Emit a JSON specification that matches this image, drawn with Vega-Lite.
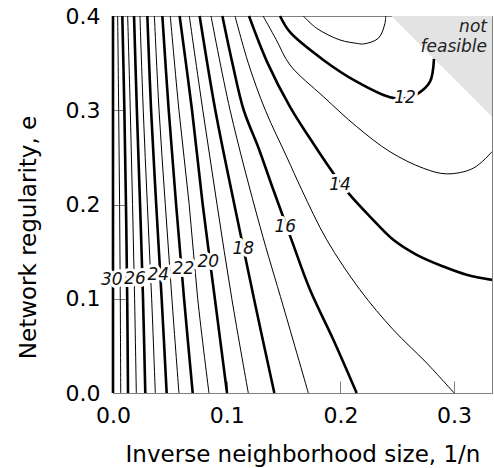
{
  "$schema": "https://vega.github.io/schema/vega-lite/v6.json",
  "width": 379,
  "height": 377,
  "autosize": {"type": "none"},
  "padding": {"left": 113, "top": 16, "right": 2, "bottom": 75},
  "background": "white",
  "config": {
    "font": "DejaVu Sans",
    "view": {"stroke": "#808080", "strokeWidth": 1}
  },
  "datasets": {
    "contours": [
      {"level": 30, "i": 0, "x": 0, "y": 0}, {"level": 30, "i": 1, "x": 0, "y": 0.4},
      {"level": 29, "i": 0, "x": 0.0068, "y": 0}, {"level": 29, "i": 1, "x": 0.0064, "y": 0.1}, {"level": 29, "i": 2, "x": 0.0058, "y": 0.2}, {"level": 29, "i": 3, "x": 0.0050, "y": 0.3}, {"level": 29, "i": 4, "x": 0.0041, "y": 0.4},
      {"level": 28, "i": 0, "x": 0.0132, "y": 0}, {"level": 28, "i": 1, "x": 0.0125, "y": 0.1}, {"level": 28, "i": 2, "x": 0.0114, "y": 0.2}, {"level": 28, "i": 3, "x": 0.0100, "y": 0.3}, {"level": 28, "i": 4, "x": 0.0082, "y": 0.4},
      {"level": 27, "i": 0, "x": 0.0205, "y": 0}, {"level": 27, "i": 1, "x": 0.0190, "y": 0.1}, {"level": 27, "i": 2, "x": 0.0172, "y": 0.2}, {"level": 27, "i": 3, "x": 0.0152, "y": 0.3}, {"level": 27, "i": 4, "x": 0.0129, "y": 0.4},
      {"level": 26, "i": 0, "x": 0.0284, "y": 0}, {"level": 26, "i": 1, "x": 0.0264, "y": 0.1}, {"level": 26, "i": 2, "x": 0.0238, "y": 0.2}, {"level": 26, "i": 3, "x": 0.0210, "y": 0.3}, {"level": 26, "i": 4, "x": 0.0185, "y": 0.4},
      {"level": 25, "i": 0, "x": 0.0372, "y": 0}, {"level": 25, "i": 1, "x": 0.0340, "y": 0.1}, {"level": 25, "i": 2, "x": 0.0302, "y": 0.2}, {"level": 25, "i": 3, "x": 0.0266, "y": 0.3}, {"level": 25, "i": 4, "x": 0.0237, "y": 0.4},
      {"level": 24, "i": 0, "x": 0.0472, "y": 0}, {"level": 24, "i": 1, "x": 0.0428, "y": 0.1}, {"level": 24, "i": 2, "x": 0.0380, "y": 0.2}, {"level": 24, "i": 3, "x": 0.0335, "y": 0.3}, {"level": 24, "i": 4, "x": 0.0302, "y": 0.4},
      {"level": 23, "i": 0, "x": 0.0580, "y": 0}, {"level": 23, "i": 1, "x": 0.0518, "y": 0.1}, {"level": 23, "i": 2, "x": 0.0460, "y": 0.2}, {"level": 23, "i": 3, "x": 0.0405, "y": 0.3}, {"level": 23, "i": 4, "x": 0.0364, "y": 0.4},
      {"level": 22, "i": 0, "x": 0.0701, "y": 0}, {"level": 22, "i": 1, "x": 0.0625, "y": 0.1}, {"level": 22, "i": 2, "x": 0.0555, "y": 0.2}, {"level": 22, "i": 3, "x": 0.0490, "y": 0.3}, {"level": 22, "i": 4, "x": 0.0434, "y": 0.4},
      {"level": 21, "i": 0, "x": 0.0844, "y": 0}, {"level": 21, "i": 1, "x": 0.0745, "y": 0.1}, {"level": 21, "i": 2, "x": 0.0670, "y": 0.2}, {"level": 21, "i": 3, "x": 0.0580, "y": 0.3}, {"level": 21, "i": 4, "x": 0.0504, "y": 0.4},
      {"level": 20, "i": 0, "x": 0.1003, "y": 0}, {"level": 20, "i": 1, "x": 0.0896, "y": 0.1}, {"level": 20, "i": 2, "x": 0.0789, "y": 0.2}, {"level": 20, "i": 3, "x": 0.0695, "y": 0.3}, {"level": 20, "i": 4, "x": 0.0586, "y": 0.4},
      {"level": 19, "i": 0, "x": 0.1190, "y": 0}, {"level": 19, "i": 1, "x": 0.1045, "y": 0.1}, {"level": 19, "i": 2, "x": 0.0915, "y": 0.2}, {"level": 19, "i": 3, "x": 0.0790, "y": 0.3}, {"level": 19, "i": 4, "x": 0.0671, "y": 0.4},
      {"level": 18, "i": 0, "x": 0.1419, "y": 0}, {"level": 18, "i": 1, "x": 0.1240, "y": 0.1}, {"level": 18, "i": 2, "x": 0.1067, "y": 0.2}, {"level": 18, "i": 3, "x": 0.0900, "y": 0.3}, {"level": 18, "i": 4, "x": 0.0762, "y": 0.4},
      {"level": 17, "i": 0, "x": 0.1718, "y": 0}, {"level": 17, "i": 1, "x": 0.1498, "y": 0.0918}, {"level": 17, "i": 2, "x": 0.1293, "y": 0.1767}, {"level": 17, "i": 3, "x": 0.1030, "y": 0.3}, {"level": 17, "i": 4, "x": 0.0862, "y": 0.4},
      {"level": 16, "i": 0, "x": 0.2143, "y": 0}, {"level": 16, "i": 1, "x": 0.1938, "y": 0.0565}, {"level": 16, "i": 2, "x": 0.1733, "y": 0.1095}, {"level": 16, "i": 3, "x": 0.1570, "y": 0.1625}, {"level": 16, "i": 4, "x": 0.1410, "y": 0.2156}, {"level": 16, "i": 5, "x": 0.1280, "y": 0.26}, {"level": 16, "i": 6, "x": 0.1150, "y": 0.3}, {"level": 16, "i": 7, "x": 0.1050, "y": 0.35}, {"level": 16, "i": 8, "x": 0.0962, "y": 0.4},
      {"level": 15, "i": 0, "x": 0.3000, "y": 0}, {"level": 15, "i": 1, "x": 0.2759, "y": 0.0318}, {"level": 15, "i": 2, "x": 0.2465, "y": 0.0671}, {"level": 15, "i": 3, "x": 0.2172, "y": 0.1095}, {"level": 15, "i": 4, "x": 0.1880, "y": 0.1625}, {"level": 15, "i": 5, "x": 0.1660, "y": 0.2156}, {"level": 15, "i": 6, "x": 0.1530, "y": 0.25}, {"level": 15, "i": 7, "x": 0.1340, "y": 0.3}, {"level": 15, "i": 8, "x": 0.1190, "y": 0.35}, {"level": 15, "i": 9, "x": 0.1073, "y": 0.4},
      {"level": 14, "i": 0, "x": 0.3333, "y": 0.120}, {"level": 14, "i": 1, "x": 0.3110, "y": 0.1254}, {"level": 14, "i": 2, "x": 0.2905, "y": 0.1342}, {"level": 14, "i": 3, "x": 0.2671, "y": 0.1466}, {"level": 14, "i": 4, "x": 0.2465, "y": 0.1625}, {"level": 14, "i": 5, "x": 0.2260, "y": 0.1872}, {"level": 14, "i": 6, "x": 0.2084, "y": 0.2102}, {"level": 14, "i": 7, "x": 0.1938, "y": 0.2332}, {"level": 14, "i": 8, "x": 0.1733, "y": 0.270}, {"level": 14, "i": 9, "x": 0.1557, "y": 0.3036}, {"level": 14, "i": 10, "x": 0.1360, "y": 0.35}, {"level": 14, "i": 11, "x": 0.1196, "y": 0.4},
      {"level": 13, "i": 0, "x": 0.3333, "y": 0.256}, {"level": 13, "i": 1, "x": 0.3169, "y": 0.2385}, {"level": 13, "i": 2, "x": 0.2935, "y": 0.2325}, {"level": 13, "i": 3, "x": 0.2729, "y": 0.2385}, {"level": 13, "i": 4, "x": 0.2436, "y": 0.256}, {"level": 13, "i": 5, "x": 0.2143, "y": 0.2826}, {"level": 13, "i": 6, "x": 0.1850, "y": 0.3145}, {"level": 13, "i": 7, "x": 0.1557, "y": 0.348}, {"level": 13, "i": 8, "x": 0.1435, "y": 0.375}, {"level": 13, "i": 9, "x": 0.1320, "y": 0.4},
      {"level": 12, "i": 0, "x": 0.2823, "y": 0.3545}, {"level": 12, "i": 1, "x": 0.2788, "y": 0.3303}, {"level": 12, "i": 2, "x": 0.2685, "y": 0.318}, {"level": 12, "i": 3, "x": 0.2560, "y": 0.3125}, {"level": 12, "i": 4, "x": 0.2436, "y": 0.3138}, {"level": 12, "i": 5, "x": 0.2143, "y": 0.3303}, {"level": 12, "i": 6, "x": 0.1850, "y": 0.3534}, {"level": 12, "i": 7, "x": 0.1557, "y": 0.3828}, {"level": 12, "i": 8, "x": 0.1469, "y": 0.4},
      {"level": 11, "i": 0, "x": 0.2398, "y": 0.4}, {"level": 11, "i": 1, "x": 0.2392, "y": 0.3923}, {"level": 11, "i": 2, "x": 0.2334, "y": 0.3764}, {"level": 11, "i": 3, "x": 0.2201, "y": 0.3703}, {"level": 11, "i": 4, "x": 0.2143, "y": 0.371}, {"level": 11, "i": 5, "x": 0.1996, "y": 0.3746}, {"level": 11, "i": 6, "x": 0.1791, "y": 0.387}, {"level": 11, "i": 7, "x": 0.1674, "y": 0.4}
    ],
    "labels": [
      {"label": "30", "x": -0.0011, "y": 0.12},
      {"label": "26", "x": 0.0193, "y": 0.121},
      {"label": "24", "x": 0.0399, "y": 0.1254},
      {"label": "22", "x": 0.0619, "y": 0.1315},
      {"label": "20", "x": 0.0838, "y": 0.1385},
      {"label": "18", "x": 0.1146, "y": 0.1527},
      {"label": "16", "x": 0.1516, "y": 0.176},
      {"label": "14", "x": 0.1996, "y": 0.2208},
      {"label": "12", "x": 0.2568, "y": 0.3128}
    ],
    "infeasible": [
      {"x": 0.2449, "y": 0.4},
      {"x": 0.33333, "y": 0.2932}
    ],
    "notes": [
      {"note": "not", "x": 0.3289, "y": 0.3887},
      {"note": "feasible", "x": 0.3289, "y": 0.3675}
    ]
  },
  "encoding": {
    "x": {
      "field": "x", "type": "quantitative",
      "scale": {"domain": [0, 0.33333], "nice": false, "zero": false},
      "axis": {
        "values": [0, 0.1, 0.2, 0.3], "format": ".1f", "grid": false,
        "tickSize": -12, "tickColor": "#808080", "domainColor": "#808080",
        "labelFontSize": 22, "labelColor": "black", "labelPadding": 24, "labelFlush": false,
        "title": "Inverse neighborhood size, 1/n", "titleFontSize": 23, "titleFontWeight": "normal",
        "titleColor": "black", "titleY": 68, "titleBaseline": "alphabetic"
      }
    },
    "y": {
      "field": "y", "type": "quantitative",
      "scale": {"domain": [0, 0.4], "nice": false, "zero": false},
      "axis": {
        "values": [0, 0.1, 0.2, 0.3, 0.4], "format": ".1f", "grid": false,
        "tickSize": -12, "tickColor": "#808080", "domainColor": "#808080",
        "labelFontSize": 22, "labelColor": "black", "labelPadding": 25, "labelFlush": false,
        "title": "Network regularity, e", "titleFontSize": 23, "titleFontWeight": "normal",
        "titleColor": "black", "titleX": -78, "titleY": 221, "titleBaseline": "alphabetic"
      }
    }
  },
  "layer": [
    {
      "data": {"name": "infeasible"},
      "mark": {"type": "area", "color": "#e3e3e3"},
      "encoding": {"y2": {"datum": 0.4}}
    },
    {
      "data": {"name": "contours"},
      "transform": [{"filter": "datum.level % 2 == 1"}],
      "mark": {"type": "line", "interpolate": "catmull-rom", "color": "black", "strokeWidth": 1},
      "encoding": {
        "detail": {"field": "level", "type": "nominal"},
        "order": {"field": "i", "type": "quantitative"}
      }
    },
    {
      "data": {"name": "contours"},
      "transform": [{"filter": "datum.level % 2 == 0"}],
      "mark": {"type": "line", "interpolate": "catmull-rom", "color": "black", "strokeWidth": 2.6},
      "encoding": {
        "detail": {"field": "level", "type": "nominal"},
        "order": {"field": "i", "type": "quantitative"}
      }
    },
    {
      "data": {"name": "labels"},
      "mark": {"type": "text", "fontStyle": "italic", "fontSize": 17, "align": "center", "baseline": "middle", "fill": "white", "stroke": "white", "strokeWidth": 6, "strokeJoin": "round"},
      "encoding": {"text": {"field": "label", "type": "nominal"}}
    },
    {
      "data": {"name": "labels"},
      "mark": {"type": "text", "fontStyle": "italic", "fontSize": 17, "align": "center", "baseline": "middle", "color": "#111"},
      "encoding": {"text": {"field": "label", "type": "nominal"}}
    },
    {
      "data": {"name": "notes"},
      "mark": {"type": "text", "fontStyle": "italic", "fontSize": 17, "align": "right", "baseline": "middle", "color": "#222"},
      "encoding": {"text": {"field": "note", "type": "nominal"}}
    }
  ]
}
